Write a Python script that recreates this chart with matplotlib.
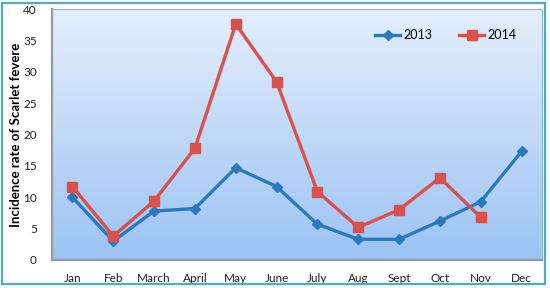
import matplotlib
matplotlib.use("Agg")
import matplotlib.pyplot as plt
import numpy as np
from matplotlib.patches import Rectangle
from matplotlib.colors import LinearSegmentedColormap

months = ["Jan", "Feb", "March", "April", "May", "June", "July", "Aug", "Sept", "Oct", "Nov", "Dec"]
rate_2013 = [10.0, 3.0, 7.8, 8.2, 14.7, 11.7, 5.7, 3.3, 3.3, 6.2, 9.3, 17.3]
rate_2014 = [11.7, 3.8, 9.4, 17.8, 37.6, 28.4, 10.9, 5.2, 8.0, 13.1, 6.8]
yticks = [0, 5, 10, 15, 20, 25, 30, 35, 40]

plt.rcParams['font.family'] = ['Lato', 'DejaVu Sans']

fig = plt.figure(figsize=(5.5, 2.88), dpi=100)
ax = fig.add_axes([52/550, 1-260/288, (542-52)/550, (260-9)/288])

# gradient background
cmap = LinearSegmentedColormap.from_list("bg", ["#9cc3f3", "#e4effc"])
grad = np.linspace(0, 1, 256).reshape(-1, 1)
ax.imshow(grad, extent=[0, 1, 0, 1], transform=ax.transAxes, cmap=cmap,
          aspect='auto', origin='lower', zorder=0)

x = np.arange(len(months))
ax.plot(x, rate_2013, color="#2a7abb", lw=2.4, marker="D", ms=5.5,
        label="2013", zorder=3)
ax.plot(x[:len(rate_2014)], rate_2014, color="#d9504c", lw=2.4, marker="s", ms=7,
        label="2014", zorder=3)

ax.set_xlim(-0.5, 11.5)
ax.set_ylim(0, 40)
ax.set_yticks(yticks)
ax.set_xticks(x)
ax.set_xticklabels(months)
ax.tick_params(axis='both', length=0, labelsize=8.5, colors="#222222")
ax.tick_params(axis='y', pad=11)
ax.tick_params(axis='x', pad=9)
ax.set_ylabel("Incidence rate of Scarlet fevere", fontsize=9.5, fontweight='bold')
ax.yaxis.set_label_coords(-30/490, 0.5)

for s in ["left", "bottom"]:
    ax.spines[s].set_color("#9a9a9a")
    ax.spines[s].set_linewidth(1.6)
for s in ["top", "right"]:
    ax.spines[s].set_color("#8fb3d9")
    ax.spines[s].set_linewidth(0.8)

leg = ax.legend(loc="upper right", bbox_to_anchor=(0.97, 0.965), ncol=2, frameon=False,
                fontsize=9, handlelength=2.0, columnspacing=2.2, handletextpad=0.2)

# outer border
fig.patches.append(Rectangle((2/550, 1-284/288), 543/550, 281/288, transform=fig.transFigure,
                             fill=False, edgecolor="#4bacc6", lw=1.6))

fig.savefig("out.png", dpi=100)
